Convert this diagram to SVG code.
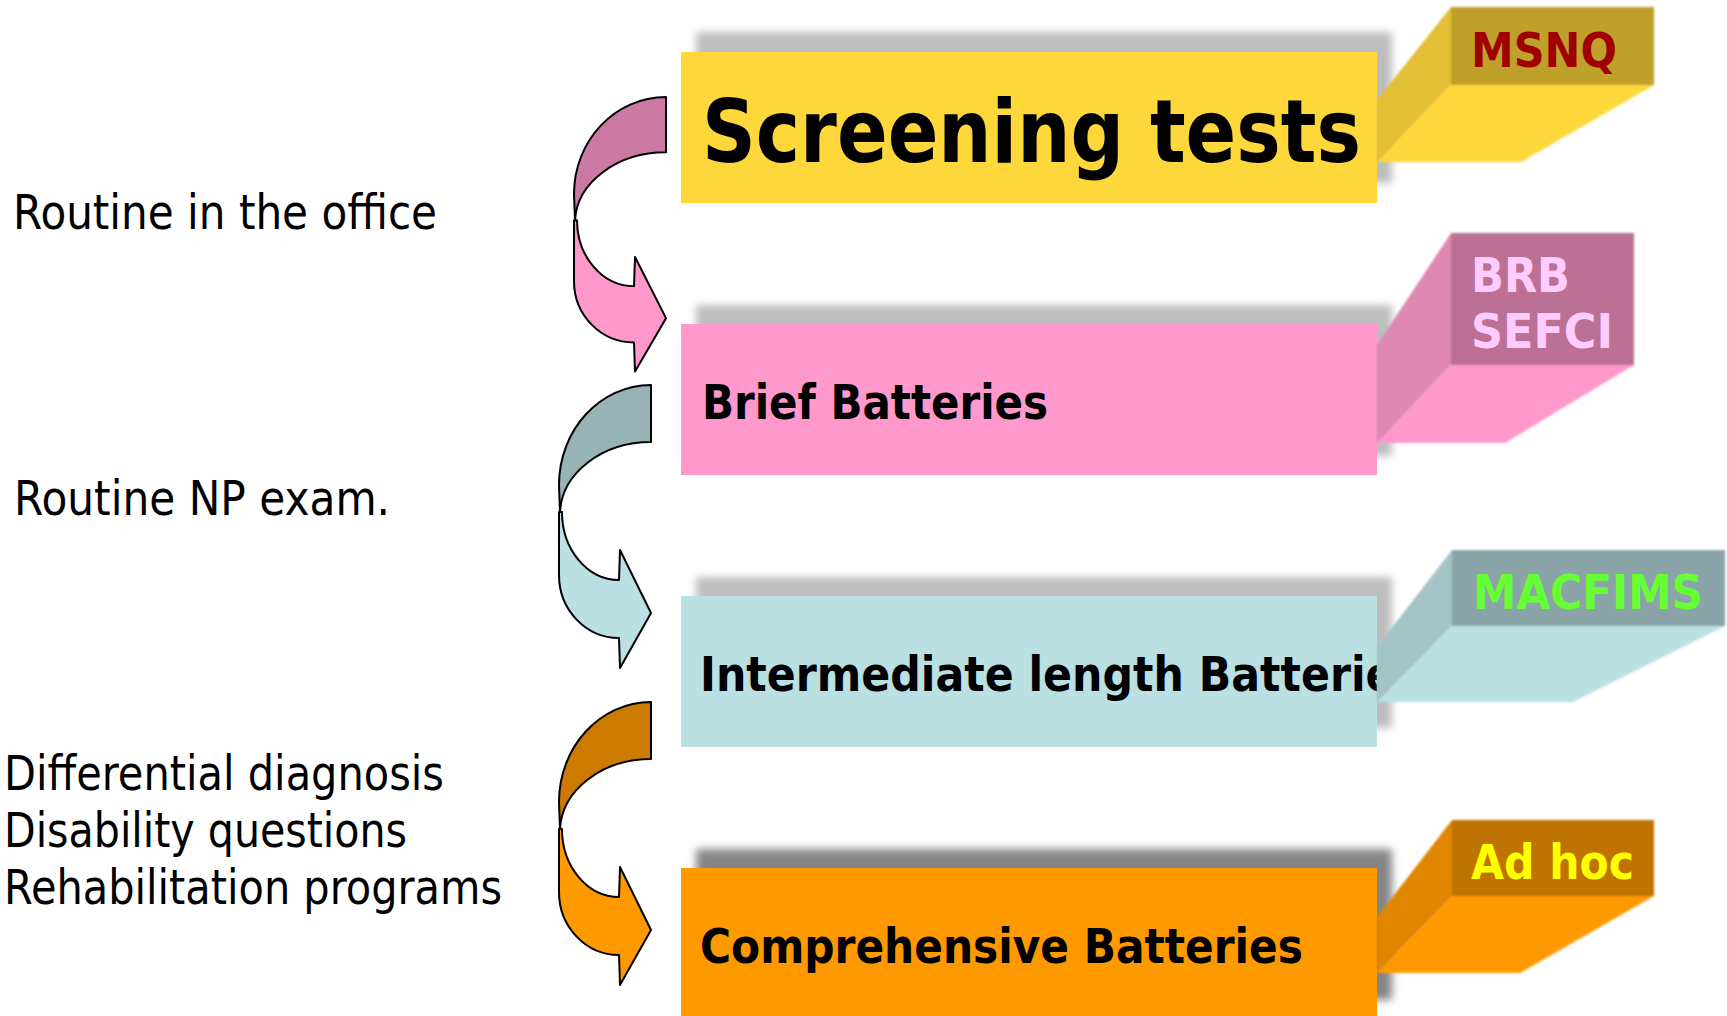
<svg xmlns="http://www.w3.org/2000/svg" width="1727" height="1016" viewBox="0 0 1727 1016">
<defs>
<filter id="blur" x="-10%" y="-20%" width="120%" height="140%"><feGaussianBlur stdDeviation="4"/></filter>
<filter id="soft" x="-5%" y="-5%" width="110%" height="110%"><feGaussianBlur stdDeviation="0.8"/></filter>
<clipPath id="clipBlue"><rect x="681" y="596" width="696" height="151"/></clipPath>
<path id="arrowLight" d="M-89,127 C-89,164.6 -63.5,195 -32,195 L-31,165 L0,228 L-31,283 L-32,253 C-65,253 -92,225 -92,190 L-92,127 Z"/>
<path id="arrowDark" d="M0,0 C-50.8,0 -92,44.8 -92,100 L-91,127 C-89,88.3 -49.2,57 0,57 Z"/>
</defs>
<style>
.side{font-family:"DejaVu Sans","Liberation Sans",sans-serif;font-size:48px;fill:#000}
.lbl{font-family:"DejaVu Sans","Liberation Sans",sans-serif;font-weight:bold;font-size:48px;fill:#000}
.tag{font-family:"DejaVu Sans","Liberation Sans",sans-serif;font-weight:bold;font-size:48px}
.arr{stroke:#000;stroke-width:2;stroke-linejoin:round}
</style>
<rect width="1727" height="1016" fill="#fff"/>

<g id="left-texts">
<text class="side" x="13" y="229" textLength="424" lengthAdjust="spacingAndGlyphs">Routine in the office</text>
<text class="side" x="14" y="515" textLength="376" lengthAdjust="spacingAndGlyphs">Routine NP exam.</text>
<text class="side" x="4" y="790" textLength="440" lengthAdjust="spacingAndGlyphs">Differential diagnosis</text>
<text class="side" x="4" y="847" textLength="403" lengthAdjust="spacingAndGlyphs">Disability questions</text>
<text class="side" x="4" y="904" textLength="498" lengthAdjust="spacingAndGlyphs">Rehabilitation programs</text>
</g>

<g id="screening">
<rect x="696" y="32" width="696" height="151" fill="#bdbdbd" filter="url(#blur)"/>
<rect x="681" y="52" width="696" height="151" fill="#fed83b"/>
<text class="lbl" x="702" y="162" font-size="88" style="font-size:88px" textLength="659" lengthAdjust="spacingAndGlyphs">Screening tests</text>
<g filter="url(#soft)">
<polygon points="1451,7 1451,85 1377,162 1377,100" fill="#e2c034"/>
<polygon points="1451,85 1654,85 1521,162 1377,162" fill="#fed83b"/>
<rect x="1451" y="7" width="203" height="78" fill="#bea02c"/>
</g>
<text class="tag" x="1471" y="67" fill="#a00000" textLength="146" lengthAdjust="spacingAndGlyphs">MSNQ</text>
</g>

<g id="brief">
<rect x="696" y="305" width="696" height="151" fill="#bdbdbd" filter="url(#blur)"/>
<rect x="681" y="324" width="696" height="151" fill="#ff99cc"/>
<text class="lbl" x="702" y="419" textLength="346" lengthAdjust="spacingAndGlyphs">Brief Batteries</text>
<g filter="url(#soft)">
<polygon points="1451,233 1451,365 1377,443 1377,345" fill="#df88b1"/>
<polygon points="1451,365 1634,365 1505,443 1377,443" fill="#ff99cc"/>
<rect x="1451" y="233" width="183" height="132" fill="#bb7094"/>
</g>
<text class="tag" x="1471" y="292" fill="#ffccff" textLength="99" lengthAdjust="spacingAndGlyphs">BRB</text>
<text class="tag" x="1471" y="348" fill="#ffccff" textLength="142" lengthAdjust="spacingAndGlyphs">SEFCI</text>
</g>

<g id="intermediate">
<rect x="696" y="577" width="696" height="151" fill="#bdbdbd" filter="url(#blur)"/>
<rect x="681" y="596" width="696" height="151" fill="#bae0e3"/>
<text class="lbl" x="700" y="691" clip-path="url(#clipBlue)" textLength="720" lengthAdjust="spacingAndGlyphs">Intermediate length Batteries</text>
<g filter="url(#soft)">
<polygon points="1452,550 1452,626 1377,702 1377,647" fill="#a3c3c6"/>
<polygon points="1452,626 1725,626 1573,702 1377,702" fill="#bae0e3"/>
<rect x="1452" y="550" width="273" height="76" fill="#8ba4a7"/>
</g>
<text class="tag" x="1473" y="609" fill="#66ff33" textLength="230" lengthAdjust="spacingAndGlyphs">MACFIMS</text>
</g>

<g id="comprehensive">
<rect x="696" y="849" width="696" height="151" fill="#858585" filter="url(#blur)"/>
<rect x="681" y="868" width="696" height="151" fill="#ff9900"/>
<text class="lbl" x="700" y="963" textLength="603" lengthAdjust="spacingAndGlyphs">Comprehensive Batteries</text>
<g filter="url(#soft)">
<polygon points="1452,820 1452,896 1377,973 1377,917" fill="#e08600"/>
<polygon points="1452,896 1654,896 1520,973 1377,973" fill="#ff9900"/>
<rect x="1452" y="820" width="202" height="76" fill="#bf7300"/>
</g>
<text class="tag" x="1471" y="879" fill="#ffff00" textLength="163" lengthAdjust="spacingAndGlyphs">Ad hoc</text>
</g>

<g id="connectors">
<g transform="translate(666,97) scale(1,0.97)">
<use href="#arrowLight" class="arr" fill="#ff99cc"/>
<use href="#arrowDark" class="arr" fill="#cc79a3"/>
</g>
<g transform="translate(651,385)">
<use href="#arrowLight" class="arr" fill="#bae0e3"/>
<use href="#arrowDark" class="arr" fill="#97b3b5"/>
</g>
<g transform="translate(651,702)">
<use href="#arrowLight" class="arr" fill="#ff9900"/>
<use href="#arrowDark" class="arr" fill="#cc7a00"/>
</g>
</g>
</svg>
